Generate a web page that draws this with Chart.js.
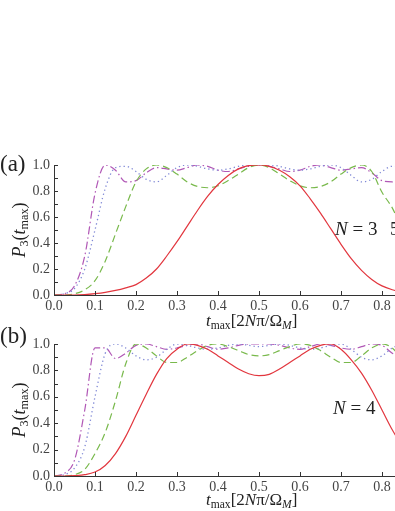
<!DOCTYPE html>
<html>
<head>
<meta charset="utf-8">
<script src="https://cdn.jsdelivr.net/npm/chart.js@4"></script>
<style>
  body { margin: 0; background: #fff; }
  #page { position: relative; width: 395px; height: 511px; overflow: hidden; font-family: "Liberation Serif", "DejaVu Serif", serif; color: #222; }
  canvas { position: absolute; left: 0; }
  .txt { position: absolute; white-space: nowrap; line-height: 1; }
  .panel { font-size: 23px; }
  .ytitle { font-size: 18px; transform: translate(-50%, -50%) rotate(-90deg); }
  .xtitle { font-size: 17px; transform: translateY(-50%); }
  .nlab { font-size: 19px; transform: translateY(-50%); }
  sub { font-size: 0.68em; vertical-align: -0.3em; }
</style>
</head>
<body>
<div id="page">
  <canvas id="chartA" width="480" height="190" style="top:140px"></canvas>
  <canvas id="chartB" width="480" height="181" style="top:330px"></canvas>

  <div class="txt panel" style="left:0px; top:152px">(a)</div>
  <div class="txt panel" style="left:0px; top:324px">(b)</div>
  <div class="txt ytitle" style="left:20px; top:230px"><i>P</i><sub>3</sub>(<i>t</i><sub>max</sub>)</div>
  <div class="txt ytitle" style="left:20px; top:410px"><i>P</i><sub>3</sub>(<i>t</i><sub>max</sub>)</div>
  <div class="txt xtitle" style="left:206px; top:322px"><i>t</i><sub>max</sub>[2<i>N</i>π/Ω<sub><i>M</i></sub>]</div>
  <div class="txt xtitle" style="left:206px; top:501px"><i>t</i><sub>max</sub>[2<i>N</i>π/Ω<sub><i>M</i></sub>]</div>
  <div class="txt nlab" style="left:335px; top:228px"><i>N</i> = 3</div>
  <div class="txt nlab" style="left:390px; top:228px">5</div>
  <div class="txt nlab" style="left:333px; top:407px"><i>N</i> = 4</div>
</div>

<script>
"use strict";

// time axis (t_max in units of 2N*pi/Omega_M)
const tValues = [0, 0.025, 0.05, 0.075, 0.1, 0.125, 0.15, 0.175, 0.2, 0.225, 0.25, 0.275,
  0.3, 0.325, 0.35, 0.375, 0.4, 0.425, 0.45, 0.475, 0.5, 0.525, 0.55, 0.575,
  0.6, 0.625, 0.65, 0.675, 0.7, 0.725, 0.75, 0.775, 0.8, 0.825, 0.85];

// panel (a), N = 3
const redA = [0, 0, 0, 0.003, 0.01, 0.02, 0.035, 0.055, 0.08, 0.13, 0.2, 0.3,
  0.41, 0.53, 0.65, 0.76, 0.85, 0.92, 0.97, 0.995, 1.0, 0.99, 0.96, 0.91,
  0.84, 0.74, 0.63, 0.51, 0.39, 0.28, 0.19, 0.12, 0.07, 0.04, 0.02];
const greenA = [0, 0, 0.01, 0.04, 0.11, 0.26, 0.47, 0.68, 0.87, 0.97, 1.0, 0.98,
  0.93, 0.87, 0.835, 0.825, 0.84, 0.88, 0.93, 0.98, 1.0, 0.98, 0.93, 0.88,
  0.84, 0.825, 0.835, 0.87, 0.93, 0.98, 1.0, 0.95, 0.79, 0.67, 0.5];
const blueA = [0, 0.01, 0.05, 0.2, 0.5, 0.82, 0.98, 0.99, 0.95, 0.89, 0.87, 0.92,
  0.98, 1.0, 0.99, 0.97, 0.96, 0.97, 0.99, 1.0, 1.0, 1.0, 0.99, 0.97,
  0.96, 0.97, 0.99, 1.0, 0.98, 0.92, 0.87, 0.89, 0.95, 0.99, 0.98];
const magentaA = [0, 0.01, 0.07, 0.3, 0.78, 1.0, 0.96, 0.87, 0.88, 0.94, 0.98, 0.97,
  0.96, 0.98, 1.0, 0.99, 0.96, 0.95, 0.97, 0.99, 1.0, 0.99, 0.97, 0.95,
  0.96, 0.99, 1.0, 0.98, 0.96, 0.97, 0.98, 0.94, 0.88, 0.87, 0.96];

// panel (b), N = 4
const redB = [0, 0, 0.003, 0.01, 0.03, 0.08, 0.17, 0.3, 0.46, 0.62, 0.77, 0.89,
  0.96, 1.0, 0.99, 0.96, 0.91, 0.86, 0.81, 0.775, 0.76, 0.77, 0.81, 0.86,
  0.91, 0.96, 0.99, 1.0, 0.96, 0.88, 0.78, 0.65, 0.5, 0.35, 0.22];
const greenB = [0, 0, 0.01, 0.05, 0.17, 0.33, 0.57, 0.85, 1.0, 0.97, 0.91, 0.86,
  0.86, 0.9, 0.95, 0.99, 1.0, 0.98, 0.95, 0.92, 0.91, 0.92, 0.95, 0.98,
  1.0, 0.99, 0.95, 0.9, 0.86, 0.86, 0.91, 0.97, 1.0, 0.97, 0.88];
const blueB = [0, 0.01, 0.06, 0.22, 0.6, 0.93, 1.0, 0.97, 0.91, 0.88, 0.9, 0.96,
  1.0, 0.99, 0.97, 0.96, 0.97, 0.99, 1.0, 0.99, 0.98, 0.99, 1.0, 0.99,
  0.97, 0.96, 0.97, 0.99, 1.0, 0.96, 0.9, 0.88, 0.91, 0.97, 1.0];
const magentaB = [0, 0.02, 0.12, 0.5, 0.97, 0.97, 0.89, 0.93, 0.99, 1.0, 0.98, 0.96,
  0.97, 0.99, 1.0, 0.98, 0.96, 0.97, 0.99, 1.0, 1.0, 1.0, 0.99, 0.97,
  0.96, 0.98, 1.0, 0.99, 0.97, 0.96, 0.98, 1.0, 0.99, 0.93, 0.89];

// tick positions
const xTicks = [0, 0.1, 0.2, 0.3, 0.4, 0.5, 0.6, 0.7, 0.8, 0.9, 1.0];
const yMinorTicks = [0, 0.1, 0.2, 0.3, 0.4, 0.5, 0.6, 0.7, 0.8, 0.9, 1.0];

const axisColor = "#333";

function pts(ys) {
  return tValues.map((t, i) => ({ x: t, y: ys[i] }));
}

// small ticks pointing into the plot, like the original figure
const innerTicks = {
  id: "innerTicks",
  afterDraw(chart) {
    const { ctx, chartArea, scales } = chart;
    ctx.save();
    ctx.strokeStyle = axisColor;
    ctx.lineWidth = 1;
    ctx.beginPath();
    for (const v of xTicks) {
      const px = Math.round(scales.x.getPixelForValue(v)) + 0.5;
      ctx.moveTo(px, chartArea.bottom);
      ctx.lineTo(px, chartArea.bottom - 4);
    }
    for (const v of yMinorTicks) {
      const py = Math.round(scales.y.getPixelForValue(v)) + 0.5;
      ctx.moveTo(chartArea.left, py);
      ctx.lineTo(chartArea.left + 4, py);
    }
    ctx.stroke();
    ctx.restore();
  },
};

function makeChart(id, red, green, blue, magenta, padTop) {
  const tickFont = { family: "'Liberation Serif', serif", size: 14 };
  new Chart(document.getElementById(id), {
    type: "line",
    data: {
      datasets: [
        { data: pts(red), borderColor: "#e2363e", borderWidth: 1.2 },
        { data: pts(green), borderColor: "#79b94c", borderWidth: 1.2, borderDash: [7, 4] },
        { data: pts(blue), borderColor: "#8089d6", borderWidth: 1.3, borderDash: [1.3, 3] },
        { data: pts(magenta), borderColor: "#b158b6", borderWidth: 1.2, borderDash: [8, 3, 1.5, 3] },
      ],
    },
    options: {
      responsive: false,
      animation: false,
      events: [],
      layout: { padding: { left: 0, right: 16, top: padTop, bottom: 0 } },
      elements: {
        point: { radius: 0 },
        line: { cubicInterpolationMode: "monotone", fill: false },
      },
      plugins: { legend: { display: false }, tooltip: { enabled: false } },
      scales: {
        x: {
          type: "linear",
          min: 0,
          max: 1,
          afterFit: (s) => { s.height = 35; },
          grid: { display: false, drawTicks: false },
          border: { display: true, color: axisColor, width: 1 },
          ticks: {
            stepSize: 0.1,
            padding: 3,
            color: "#444",
            font: tickFont,
            maxRotation: 0,
            autoSkip: false,
            callback: (v) => v.toFixed(1),
          },
        },
        y: {
          min: 0,
          max: 1,
          afterFit: (s) => { s.width = 54; },
          grid: { display: false, drawTicks: false },
          border: { display: true, color: axisColor, width: 1 },
          ticks: {
            stepSize: 0.2,
            padding: 4,
            color: "#444",
            font: tickFont,
            callback: (v) => v.toFixed(1),
          },
        },
      },
    },
    plugins: [innerTicks],
  });
}

makeChart("chartA", redA, greenA, blueA, magentaA, 25);
makeChart("chartB", redB, greenB, blueB, magentaB, 14);
</script>
</body>
</html>
